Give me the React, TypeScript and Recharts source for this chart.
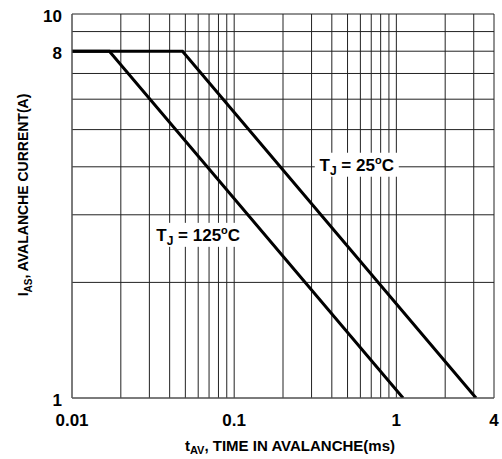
import { LineChart, Line, XAxis, YAxis, CartesianGrid, ReferenceDot, Label } from 'recharts'

const timeTicks = [0.01, 0.02, 0.03, 0.04, 0.05, 0.06, 0.07, 0.08, 0.09, 0.1, 0.2, 0.3, 0.4, 0.5, 0.6, 0.7, 0.8, 0.9, 1, 2, 3, 4]
const timeLabels = [0.01, 0.1, 1, 4]
const currentTicks = [1, 2, 3, 4, 5, 6, 7, 8, 9, 10]
const currentLabels = [1, 8, 10]

const tj25 = [
  { t: 0.01, i: 8 },
  { t: 0.048, i: 8 },
  { t: 3.1, i: 1 },
]
const tj125 = [
  { t: 0.01, i: 8 },
  { t: 0.017, i: 8 },
  { t: 1.1, i: 1 },
]

const FONT = '"Liberation Sans", Arial, sans-serif'

function XTick(props: any) {
  const { x, y, payload } = props
  if (!timeLabels.includes(payload.value)) return null
  return (
    <text x={x} y={y + 28} textAnchor="middle" fontFamily={FONT} fontWeight="bold" fontSize={17} fill="#000">
      {payload.value}
    </text>
  )
}

function YTick(props: any) {
  const { x, y, payload } = props
  if (!currentLabels.includes(payload.value)) return null
  return (
    <text x={x - 10} y={y + 8} textAnchor="end" fontFamily={FONT} fontWeight="bold" fontSize={17} fill="#000">
      {payload.value}
    </text>
  )
}

function TempLabel({ cx, cy, temp, w }: any) {
  return (
    <g>
      <rect x={cx - w / 2} y={cy - 12} width={w} height={24} fill="#fff" />
      <text x={cx} y={cy + 6} textAnchor="middle" fontFamily={FONT} fontWeight="bold" fontSize={17} fill="#000">
        T<tspan fontSize={12} dy={4}>J</tspan>
        <tspan dy={-4}> = {temp}</tspan>
        <tspan fontSize={11} dy={-7}>o</tspan>
        <tspan dy={7}>C</tspan>
      </text>
    </g>
  )
}

export default function App() {
  return (
    <div style={{ position: 'absolute', left: 0, top: 0, background: '#fff' }}>
      <LineChart width={502} height={459} margin={{ top: 14, right: 8, bottom: 0, left: 0 }}>
        <CartesianGrid stroke="#222" strokeWidth={1} />
        <XAxis
          dataKey="t"
          type="number"
          scale="log"
          domain={[0.01, 4]}
          ticks={timeTicks}
          interval={0}
          allowDataOverflow
          tickSize={0}
          tickMargin={0}
          height={61}
          stroke="#666"
          tick={<XTick />}
        >
          <Label
            content={() => (
              <text x={290} y={451} textAnchor="middle" fontFamily={FONT} fontWeight="bold" fontSize={15} fill="#000">
                t<tspan fontSize={11} dy={3}>AV</tspan>
                <tspan dy={-3}>, TIME IN AVALANCHE(ms)</tspan>
              </text>
            )}
          />
        </XAxis>
        <YAxis
          dataKey="i"
          type="number"
          scale="log"
          domain={[1, 10]}
          ticks={currentTicks}
          interval={0}
          allowDataOverflow
          tickSize={0}
          tickMargin={0}
          width={72}
          stroke="#666"
          tick={<YTick />}
        >
          <Label
            content={() => {
              const cx = 28
              const cy = 195
              return (
                <text x={cx} y={cy} transform={`rotate(-90 ${cx} ${cy})`} textAnchor="middle" fontFamily={FONT} fontWeight="bold" fontSize={14} fill="#000">
                  I<tspan fontSize={10} dy={4}>AS</tspan>
                  <tspan dy={-4}>, AVALANCHE CURRENT(A)</tspan>
                </text>
              )
            }}
          />
        </YAxis>
        <ReferenceDot x={0.57} y={4.05} r={0} shape={(p: any) => <TempLabel {...p} temp="25" w={84} />} />
        <ReferenceDot x={0.06} y={2.66} r={0} shape={(p: any) => <TempLabel {...p} temp="125" w={94} />} />
        <Line data={tj125} dataKey="i" type="linear" stroke="#000" strokeWidth={3} dot={false} isAnimationActive={false} />
        <Line data={tj25} dataKey="i" type="linear" stroke="#000" strokeWidth={3} dot={false} isAnimationActive={false} />
      </LineChart>
    </div>
  )
}
